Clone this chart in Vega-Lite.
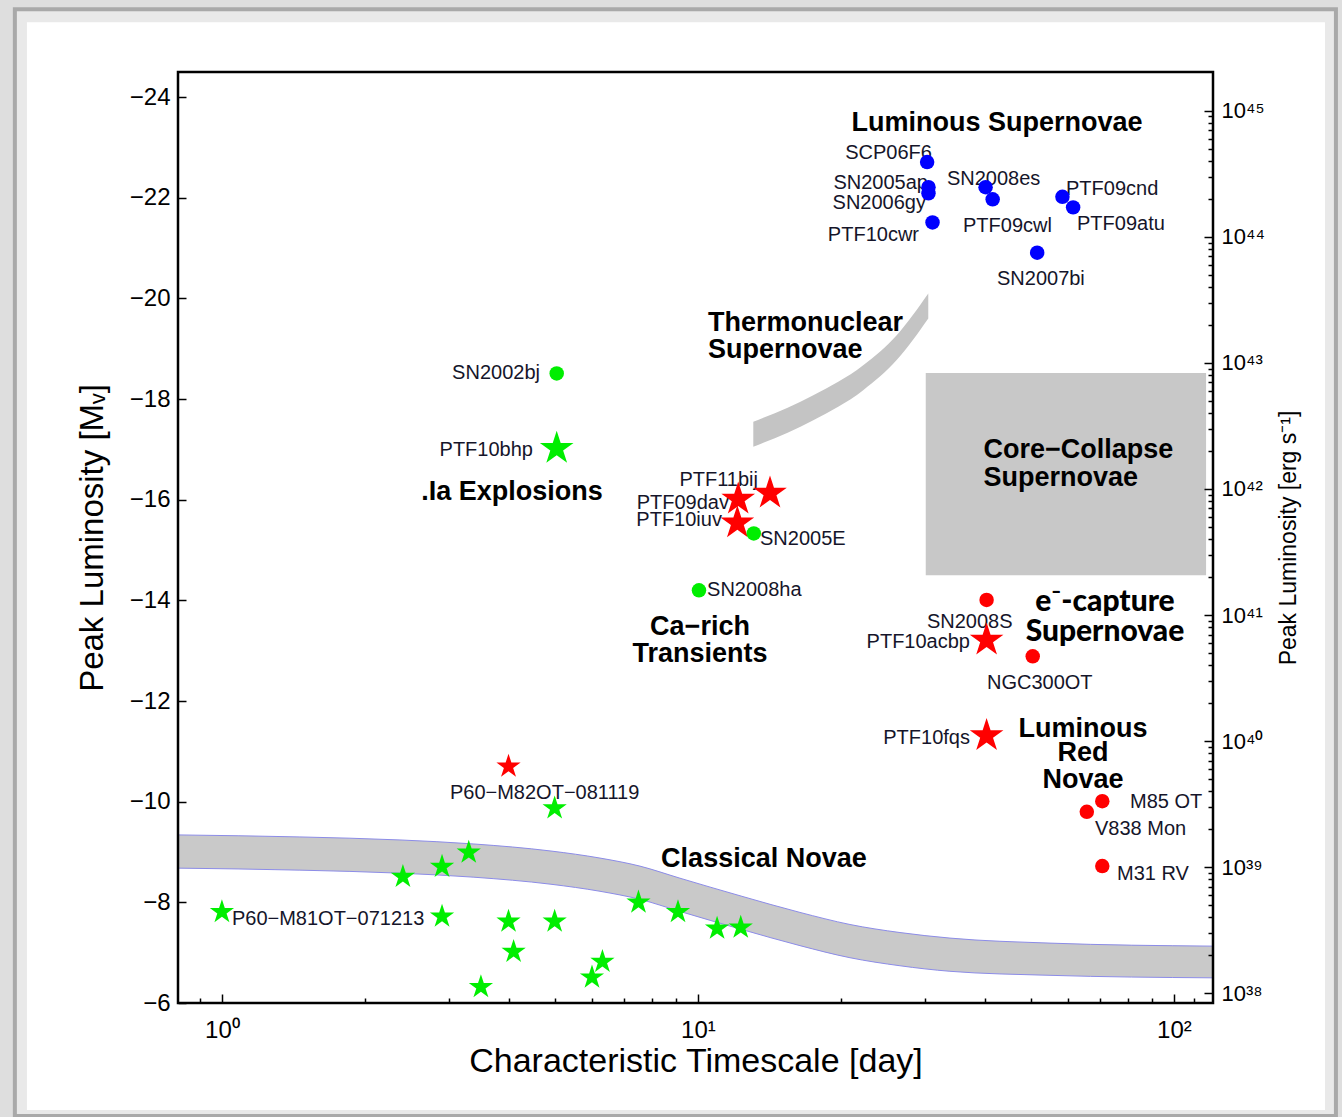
{
  "$schema": "https://vega.github.io/schema/vega-lite/v6.json",
  "width": 1035,
  "height": 931,
  "autosize": {"type": "none"},
  "padding": {"left": 178, "top": 72, "right": 129, "bottom": 114},
  "background": "#dedede",
  "config": {"view": {"stroke": null}, "font": "Liberation Sans"},
  "datasets": {
    "transients": [
      {"name": "SCP06F6", "t": 30.3, "mag": -22.71, "family": "luminous", "marker": "circle"},
      {"name": "SN2005ap", "t": 30.5, "mag": -22.21, "family": "luminous", "marker": "circle"},
      {"name": "SN2006gy", "t": 30.5, "mag": -22.09, "family": "luminous", "marker": "circle"},
      {"name": "PTF10cwr", "t": 31.1, "mag": -21.51, "family": "luminous", "marker": "circle"},
      {"name": "SN2008es", "t": 40.2, "mag": -22.21, "family": "luminous", "marker": "circle"},
      {"name": "PTF09cwl", "t": 41.6, "mag": -21.97, "family": "luminous", "marker": "circle"},
      {"name": "PTF09cnd", "t": 58.3, "mag": -22.02, "family": "luminous", "marker": "circle"},
      {"name": "PTF09atu", "t": 61.4, "mag": -21.81, "family": "luminous", "marker": "circle"},
      {"name": "SN2007bi", "t": 51.6, "mag": -20.91, "family": "luminous", "marker": "circle"},
      {"name": "PTF10bhp", "t": 5.05, "mag": -17.02, "family": "fast", "marker": "star"},
      {"name": "P60-M81OT-071213", "t": 1.0, "mag": -7.81, "family": "fast", "marker": "small star"},
      {"name": "nova-a", "t": 2.4, "mag": -8.51, "family": "fast", "marker": "small star"},
      {"name": "nova-b", "t": 2.9, "mag": -8.71, "family": "fast", "marker": "small star"},
      {"name": "nova-c", "t": 3.3, "mag": -8.99, "family": "fast", "marker": "small star"},
      {"name": "nova-d", "t": 2.9, "mag": -7.72, "family": "fast", "marker": "small star"},
      {"name": "nova-e", "t": 4.0, "mag": -7.62, "family": "fast", "marker": "small star"},
      {"name": "nova-f", "t": 5.0, "mag": -7.62, "family": "fast", "marker": "small star"},
      {"name": "nova-g", "t": 5.0, "mag": -9.87, "family": "fast", "marker": "small star"},
      {"name": "nova-h", "t": 4.1, "mag": -7.02, "family": "fast", "marker": "small star"},
      {"name": "nova-i", "t": 3.5, "mag": -6.32, "family": "fast", "marker": "small star"},
      {"name": "nova-j", "t": 6.3, "mag": -6.82, "family": "fast", "marker": "small star"},
      {"name": "nova-k", "t": 5.99, "mag": -6.51, "family": "fast", "marker": "small star"},
      {"name": "nova-l", "t": 7.5, "mag": -8.0, "family": "fast", "marker": "small star"},
      {"name": "nova-m", "t": 9.08, "mag": -7.81, "family": "fast", "marker": "small star"},
      {"name": "nova-n", "t": 10.97, "mag": -7.48, "family": "fast", "marker": "small star"},
      {"name": "nova-o", "t": 12.3, "mag": -7.5, "family": "fast", "marker": "small star"},
      {"name": "P60-M82OT-081119", "t": 4.0, "mag": -10.7, "family": "gap", "marker": "small star"},
      {"name": "PTF11bij", "t": 14.17, "mag": -16.13, "family": "gap", "marker": "star"},
      {"name": "PTF09dav", "t": 12.15, "mag": -16.01, "family": "gap", "marker": "star"},
      {"name": "PTF10iuv", "t": 12.1, "mag": -15.54, "family": "gap", "marker": "star"},
      {"name": "PTF10acbp", "t": 40.4, "mag": -13.21, "family": "gap", "marker": "star"},
      {"name": "PTF10fqs", "t": 40.4, "mag": -11.31, "family": "gap", "marker": "star"},
      {"name": "SN2008S", "t": 40.4, "mag": -14.01, "family": "gap", "marker": "circle"},
      {"name": "NGC300OT", "t": 50.5, "mag": -12.89, "family": "gap", "marker": "circle"},
      {"name": "M85 OT", "t": 70.7, "mag": -10.01, "family": "gap", "marker": "circle"},
      {"name": "V838 Mon", "t": 65.6, "mag": -9.8, "family": "gap", "marker": "circle"},
      {"name": "M31 RV", "t": 70.7, "mag": -8.72, "family": "gap", "marker": "circle"},
      {"name": "SN2002bj", "t": 5.05, "mag": -18.51, "family": "fast", "marker": "circle"},
      {"name": "SN2005E", "t": 13.1, "mag": -15.33, "family": "fast", "marker": "circle"},
      {"name": "SN2008ha", "t": 10.05, "mag": -14.2, "family": "fast", "marker": "circle"}
    ],
    "novaeBand": [
      {"t": 0.8086, "mag": -9.34, "mag2": -8.68},
      {"t": 1.458, "mag": -9.3, "mag2": -8.64},
      {"t": 2.366, "mag": -9.24, "mag2": -8.58},
      {"t": 3.383, "mag": -9.16, "mag2": -8.5},
      {"t": 4.912, "mag": -9.02, "mag2": -8.36},
      {"t": 6.226, "mag": -8.88, "mag2": -8.22},
      {"t": 7.553, "mag": -8.72, "mag2": -8.06},
      {"t": 9.167, "mag": -8.48, "mag2": -7.82},
      {"t": 12.37, "mag": -8.12, "mag2": -7.46},
      {"t": 16.38, "mag": -7.8, "mag2": -7.14},
      {"t": 20.86, "mag": -7.56, "mag2": -6.9},
      {"t": 26.57, "mag": -7.4, "mag2": -6.74},
      {"t": 33.83, "mag": -7.29, "mag2": -6.63},
      {"t": 54.9, "mag": -7.19, "mag2": -6.55},
      {"t": 120.78, "mag": -7.13, "mag2": -6.5}
    ],
    "thermoBand": [
      {"t": 13.07, "mag": -17.549, "mag2": -17.052},
      {"t": 17.47, "mag": -18.079, "mag2": -17.582},
      {"t": 22.24, "mag": -18.675, "mag2": -18.178},
      {"t": 26.15, "mag": -19.271, "mag2": -18.775},
      {"t": 30.47, "mag": -20.1, "mag2": -19.603}
    ],
    "namesLeftOfPoint": [
      {"text": "SCP06F6", "t": 31.01, "mag": -22.887},
      {"text": "SN2005ap", "t": 30.42, "mag": -22.291},
      {"text": "SN2006gy", "t": 30.13, "mag": -21.893},
      {"text": "PTF10cwr", "t": 29.13, "mag": -21.258},
      {"text": "SN2002bj", "t": 4.657, "mag": -18.515},
      {"text": "PTF10bhp", "t": 4.502, "mag": -16.985},
      {"text": "PTF11bij", "t": 13.37, "mag": -16.389},
      {"text": "PTF09dav", "t": 11.62, "mag": -15.937},
      {"text": "PTF10iuv", "t": 11.23, "mag": -15.594},
      {"text": "PTF10acbp", "t": 37.28, "mag": -13.175},
      {"text": "PTF10fqs", "t": 37.28, "mag": -11.256}
    ],
    "namesRightOfPoint": [
      {"text": "SN2008es", "t": 33.35, "mag": -22.37},
      {"text": "PTF09cwl", "t": 36.04, "mag": -21.436},
      {"text": "PTF09cnd", "t": 59.32, "mag": -22.172},
      {"text": "PTF09atu", "t": 62.57, "mag": -21.476},
      {"text": "SN2007bi", "t": 42.48, "mag": -20.383},
      {"text": "SN2005E", "t": 13.5, "mag": -15.216},
      {"text": "SN2008ha", "t": 10.45, "mag": -14.203},
      {"text": "SN2008S", "t": 30.27, "mag": -13.573},
      {"text": "NGC300OT", "t": 40.47, "mag": -12.349},
      {"text": "M85 OT", "t": 80.83, "mag": -9.996},
      {"text": "V838 Mon", "t": 68.24, "mag": -9.467},
      {"text": "M31 RV", "t": 75.91, "mag": -8.573},
      {"text": "P60−M81OT−071213", "t": 1.0496, "mag": -7.665},
      {"text": "P60−M82OT−081119", "t": 3.013, "mag": -10.169}
    ],
    "classesCentered": [
      {"text": "Luminous Supernovae", "t": 42.48, "mag": -23.483},
      {"text": ".Ia Explosions", "t": 4.067, "mag": -16.156},
      {"text": "Ca−rich", "t": 10.1, "mag": -13.467},
      {"text": "Transients", "t": 10.1, "mag": -12.931},
      {"text": "Classical Novae", "t": 13.76, "mag": -8.857},
      {"text": "Luminous", "t": 64.41, "mag": -11.454},
      {"text": "Red", "t": 64.41, "mag": -10.969},
      {"text": "Novae", "t": 64.41, "mag": -10.441}
    ],
    "classesLeft": [
      {"text": "Thermonuclear", "t": 10.5, "mag": -19.503},
      {"text": "Supernovae", "t": 10.5, "mag": -18.972},
      {"text": "Core−Collapse", "t": 39.79, "mag": -16.985},
      {"text": "Supernovae", "t": 39.79, "mag": -16.442}
    ],
    "captureLabel": [
      {"text": "e⁻-capture", "t": 71.62, "mag": -13.97},
      {"text": "Supernovae", "t": 71.62, "mag": -13.375}
    ]
  },
  "layer": [
    {
      "encoding": {
        "x": {
          "field": "t",
          "type": "quantitative",
          "scale": {"type": "log", "domain": [0.8086, 120.78], "nice": false},
          "axis": {
            "orient": "bottom",
            "values": [0.9, 1, 2, 3, 4, 5, 6, 7, 8, 9, 10, 20, 30, 40, 50, 60, 70, 80, 90, 100, 110],
            "labelExpr": "datum.value == 1 ? '10⁰' : datum.value == 10 ? '10¹' : datum.value == 100 ? '10²' : ''",
            "tickSize": {"condition": {"test": "datum.value == 1 || datum.value == 10 || datum.value == 100", "value": -9}, "value": -5},
            "tickWidth": 1.5,
            "tickColor": "black",
            "domain": false,
            "grid": false,
            "labelFont": "Liberation Sans",
            "labelFontSize": 24,
            "labelColor": "black",
            "labelPadding": 24,
            "labelOverlap": false,
            "labelFlush": false,
            "title": "Characteristic Timescale [day]",
            "titleFont": "Liberation Sans",
            "titleFontSize": 34,
            "titleFontWeight": "normal",
            "titleColor": "black",
            "titlePadding": -2,
            "zindex": 1
          }
        },
        "y": {
          "field": "mag",
          "type": "quantitative",
          "scale": {"domain": [-24.5, -6], "reverse": true, "nice": false, "zero": false},
          "axis": null
        }
      },
      "layer": [
        {
          "data": {"values": [{"t": 0.3673, "t2": 218.9, "mag": -25.748, "mag2": -3.754}]},
          "mark": {"type": "rect", "fill": "#e9e9e9", "stroke": "#a9a9a9", "strokeWidth": 4},
          "encoding": {"x2": {"field": "t2"}, "y2": {"field": "mag2"}}
        },
        {
          "data": {"values": [{"t": 0.3894, "t2": 207.6, "mag": -25.49, "mag2": -3.873}]},
          "mark": {"type": "rect", "fill": "white"},
          "encoding": {"x2": {"field": "t2"}, "y2": {"field": "mag2"}}
        },
        {
          "data": {"values": [{"t": 30.1, "t2": 116.8, "mag": -18.52, "mag2": -14.5}]},
          "mark": {"type": "rect", "fill": "#c8c8c8"},
          "encoding": {"x2": {"field": "t2"}, "y2": {"field": "mag2"}}
        },
        {
          "data": {"name": "thermoBand"},
          "mark": {"type": "area", "fill": "#c4c4c4", "interpolate": "monotone"},
          "encoding": {"y2": {"field": "mag2"}}
        },
        {
          "data": {"name": "novaeBand"},
          "mark": {"type": "area", "fill": "#c9c9c9", "interpolate": "monotone"},
          "encoding": {"y2": {"field": "mag2"}}
        },
        {
          "data": {"name": "novaeBand"},
          "mark": {"type": "line", "stroke": "#8c8ce8", "strokeWidth": 1, "interpolate": "monotone"},
          "encoding": {}
        },
        {
          "data": {"name": "novaeBand"},
          "mark": {"type": "line", "stroke": "#8c8ce8", "strokeWidth": 1, "interpolate": "monotone"},
          "encoding": {"y": {"field": "mag2", "type": "quantitative", "axis": null}}
        },
        {
          "data": {"name": "classesCentered"},
          "mark": {"type": "text", "align": "center", "baseline": "middle", "font": "Liberation Sans", "fontWeight": "bold", "fontSize": 27, "color": "black"},
          "encoding": {"text": {"field": "text"}}
        },
        {
          "data": {"name": "classesLeft"},
          "mark": {"type": "text", "align": "left", "baseline": "middle", "font": "Liberation Sans", "fontWeight": "bold", "fontSize": 27, "color": "black"},
          "encoding": {"text": {"field": "text"}}
        },
        {
          "data": {"name": "captureLabel"},
          "mark": {"type": "text", "align": "center", "baseline": "middle", "font": "Lato", "fontWeight": 900, "fontSize": 30, "color": "black"},
          "encoding": {"text": {"field": "text"}}
        },
        {
          "data": {"name": "namesLeftOfPoint"},
          "mark": {"type": "text", "align": "right", "baseline": "middle", "font": "Liberation Sans", "fontSize": 20, "color": "#15152a"},
          "encoding": {"text": {"field": "text"}}
        },
        {
          "data": {"name": "namesRightOfPoint"},
          "mark": {"type": "text", "align": "left", "baseline": "middle", "font": "Liberation Sans", "fontSize": 20, "color": "#15152a"},
          "encoding": {"text": {"field": "text"}}
        },
        {
          "data": {"name": "transients"},
          "transform": [{"filter": "datum.marker == 'small star'"}],
          "mark": {
            "type": "point", "filled": true, "opacity": 1, "strokeWidth": 0, "size": 650,
            "shape": "M0,-1L0.2245,-0.309L0.9511,-0.309L0.3633,0.118L0.5878,0.809L0,0.382L-0.5878,0.809L-0.3633,0.118L-0.9511,-0.309L-0.2245,-0.309Z"
          },
          "encoding": {
            "color": {
              "field": "family",
              "type": "nominal",
              "scale": {"domain": ["luminous", "fast", "gap"], "range": ["#0000ff", "#00ee00", "#ff0000"]},
              "legend": null
            }
          }
        },
        {
          "data": {"name": "transients"},
          "transform": [{"filter": "datum.marker == 'star'"}],
          "mark": {
            "type": "point", "filled": true, "opacity": 1, "strokeWidth": 0, "size": 1250,
            "shape": "M0,-1L0.2245,-0.309L0.9511,-0.309L0.3633,0.118L0.5878,0.809L0,0.382L-0.5878,0.809L-0.3633,0.118L-0.9511,-0.309L-0.2245,-0.309Z"
          },
          "encoding": {
            "color": {
              "field": "family",
              "type": "nominal",
              "scale": {"domain": ["luminous", "fast", "gap"], "range": ["#0000ff", "#00ee00", "#ff0000"]},
              "legend": null
            }
          }
        },
        {
          "data": {"name": "transients"},
          "transform": [{"filter": "datum.marker == 'circle'"}],
          "mark": {"type": "point", "filled": true, "opacity": 1, "strokeWidth": 0, "size": 210, "shape": "circle"},
          "encoding": {
            "color": {
              "field": "family",
              "type": "nominal",
              "scale": {"domain": ["luminous", "fast", "gap"], "range": ["#0000ff", "#00ee00", "#ff0000"]},
              "legend": null
            }
          }
        },
        {
          "data": {"values": [{"t": 0.8086, "t2": 120.78, "mag": -24.5, "mag2": -6}]},
          "mark": {"type": "rect", "fill": "transparent", "stroke": "black", "strokeWidth": 2.5},
          "encoding": {"x2": {"field": "t2"}, "y2": {"field": "mag2"}}
        }
      ]
    },
    {
      "data": {"values": [{"mag": -15}]},
      "mark": {"type": "point", "opacity": 0},
      "encoding": {
        "y": {
          "field": "mag",
          "type": "quantitative",
          "scale": {"domain": [-24.5, -6], "reverse": true, "nice": false, "zero": false},
          "axis": {
            "orient": "left",
            "values": [-24, -22, -20, -18, -16, -14, -12, -10, -8, -6],
            "labelExpr": "'−' + abs(datum.value)",
            "tickSize": -8,
            "tickWidth": 1.5,
            "tickColor": "black",
            "domain": false,
            "grid": false,
            "labelFont": "Liberation Sans",
            "labelFontSize": 24,
            "labelColor": "black",
            "labelPadding": 16,
            "labelOverlap": false,
            "labelFlush": false,
            "title": "Peak Luminosity [Mᵥ]",
            "titleFont": "Liberation Sans",
            "titleFontSize": 33,
            "titleFontWeight": "normal",
            "titleColor": "black",
            "titlePadding": 20,
            "zindex": 1
          }
        }
      }
    },
    {
      "data": {"values": [{"L": 1e40}]},
      "mark": {"type": "point", "opacity": 0},
      "encoding": {
        "y": {
          "field": "L",
          "type": "quantitative",
          "scale": {"type": "log", "domain": [8.375e37, 2.028e45], "nice": false},
          "axis": {
            "orient": "right",
            "values": [1e38, 2e38, 3e38, 4e38, 5e38, 6e38, 7e38, 8e38, 9e38,
                       1e39, 2e39, 3e39, 4e39, 5e39, 6e39, 7e39, 8e39, 9e39,
                       1e40, 2e40, 3e40, 4e40, 5e40, 6e40, 7e40, 8e40, 9e40,
                       1e41, 2e41, 3e41, 4e41, 5e41, 6e41, 7e41, 8e41, 9e41,
                       1e42, 2e42, 3e42, 4e42, 5e42, 6e42, 7e42, 8e42, 9e42,
                       1e43, 2e43, 3e43, 4e43, 5e43, 6e43, 7e43, 8e43, 9e43,
                       1e44, 2e44, 3e44, 4e44, 5e44, 6e44, 7e44, 8e44, 9e44,
                       1e45],
            "labelExpr": "datum.value == 1e38 ? '10³⁸' : datum.value == 1e39 ? '10³⁹' : datum.value == 1e40 ? '10⁴⁰' : datum.value == 1e41 ? '10⁴¹' : datum.value == 1e42 ? '10⁴²' : datum.value == 1e43 ? '10⁴³' : datum.value == 1e44 ? '10⁴⁴' : datum.value == 1e45 ? '10⁴⁵' : ''",
            "tickSize": {"condition": {"test": "indexof([1e38,1e39,1e40,1e41,1e42,1e43,1e44,1e45], datum.value) >= 0", "value": -9}, "value": -5},
            "tickWidth": 1.5,
            "tickColor": "black",
            "domain": false,
            "grid": false,
            "labelFont": "Liberation Sans",
            "labelFontSize": 22,
            "labelColor": "black",
            "labelPadding": 17,
            "labelOverlap": false,
            "labelFlush": false,
            "title": "Peak Luminosity [erg s⁻¹]",
            "titleFont": "Liberation Sans",
            "titleFontSize": 23,
            "titleFontWeight": "normal",
            "titleColor": "black",
            "titleAngle": 270,
            "titlePadding": 36,
            "zindex": 1
          }
        }
      }
    }
  ],
  "resolve": {"scale": {"y": "independent"}, "axis": {"y": "independent"}}
}
